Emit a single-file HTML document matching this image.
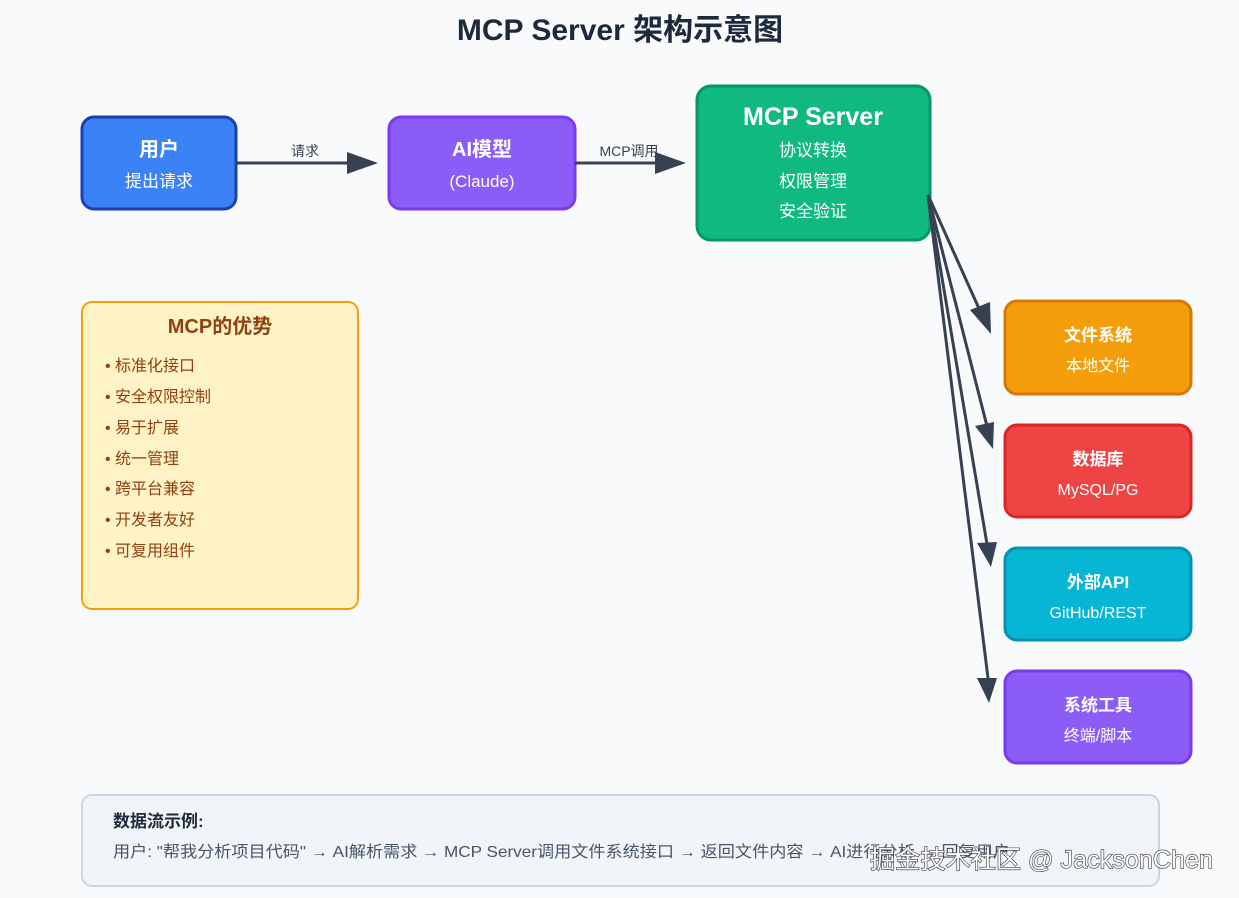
<!DOCTYPE html>
<html><head><meta charset="utf-8"><style>
html,body{margin:0;padding:0;background:#f8fafc;}
svg{display:block;font-family:"Liberation Sans","Noto Sans CJK SC",sans-serif;}
</style></head><body>
<svg width="1239" height="898" viewBox="0 0 1239 898" xmlns="http://www.w3.org/2000/svg">
<rect x="0" y="0" width="1239" height="898" fill="#f8fafc"/>
<text x="620" y="40" text-anchor="middle" font-size="30" font-weight="bold" fill="#1e293b">MCP Server 架构示意图</text>

<g stroke-width="3">
<rect x="82" y="117" width="154" height="92" rx="12" fill="#3b82f6" stroke="#1e40af"/>
<rect x="389" y="117" width="186" height="92" rx="12" fill="#8b5cf6" stroke="#7c3aed"/>
<rect x="697" y="86" width="233" height="154" rx="14" fill="#10b981" stroke="#059669"/>
<rect x="1005" y="301" width="186" height="93" rx="12" fill="#f59e0b" stroke="#d97706"/>
<rect x="1005" y="425" width="186" height="92" rx="12" fill="#ef4444" stroke="#dc2626"/>
<rect x="1005" y="548" width="186" height="92" rx="12" fill="#06b6d4" stroke="#0891b2"/>
<rect x="1005" y="671" width="186" height="92" rx="12" fill="#8b5cf6" stroke="#7c3aed"/>
</g>
<rect x="82" y="302" width="276" height="307" rx="10" fill="#fef3c7" stroke="#f59e0b" stroke-width="2"/>
<rect x="82" y="795" width="1077" height="91" rx="10" fill="#f1f5f9" stroke="#cbd5e1" stroke-width="2"/>

<g fill="#fff" text-anchor="middle">
<text x="159" y="156" font-size="20" font-weight="bold">用户</text>
<text x="159" y="187" font-size="17">提出请求</text>
<text x="482" y="156" font-size="20" font-weight="bold">AI模型</text>
<text x="482" y="187" font-size="17">(Claude)</text>
<text x="813" y="125" font-size="25" font-weight="bold">MCP Server</text>
<text x="813" y="156" font-size="17">协议转换</text>
<text x="813" y="187" font-size="17">权限管理</text>
<text x="813" y="217" font-size="17">安全验证</text>
<text x="1098" y="341" font-size="17" font-weight="bold">文件系统</text>
<text x="1098" y="371" font-size="16">本地文件</text>
<text x="1098" y="465" font-size="17" font-weight="bold">数据库</text>
<text x="1098" y="495" font-size="16">MySQL/PG</text>
<text x="1098" y="588" font-size="17" font-weight="bold">外部API</text>
<text x="1098" y="618" font-size="16">GitHub/REST</text>
<text x="1098" y="711" font-size="17" font-weight="bold">系统工具</text>
<text x="1098" y="741" font-size="16">终端/脚本</text>
</g>

<g stroke="#374151" stroke-width="3" fill="none">
<line x1="236" y1="163" x2="352" y2="163"/>
<line x1="575" y1="163" x2="660" y2="163"/>
<line x1="928" y1="195" x2="981" y2="313"/>
<line x1="928" y1="195" x2="988" y2="430"/>
<line x1="928" y1="195" x2="988" y2="550"/>
<line x1="928" y1="195" x2="988" y2="678"/>
</g>
<g fill="#374151">
<polygon points="378,163 347,152 347,174"/>
<polygon points="686,163 655,152 655,174"/>
<polygon points="991,334 970,310 990,302"/>
<polygon points="993,449 975,426 994,422"/>
<polygon points="991,567 977,543 997,542"/>
<polygon points="989,703 977,678 997,678"/>
</g>
<text x="305" y="156" text-anchor="middle" font-size="14" fill="#374151">请求</text>
<text x="629" y="156" text-anchor="middle" font-size="14" fill="#374151">MCP调用</text>

<text x="220" y="333" text-anchor="middle" font-size="20" font-weight="bold" fill="#92400e">MCP的优势</text>
<g font-size="16" fill="#92400e">
<text x="105" y="371">• 标准化接口</text>
<text x="105" y="402">• 安全权限控制</text>
<text x="105" y="433">• 易于扩展</text>
<text x="105" y="464">• 统一管理</text>
<text x="105" y="494">• 跨平台兼容</text>
<text x="105" y="525">• 开发者友好</text>
<text x="105" y="556">• 可复用组件</text>
</g>

<text x="113" y="827" font-size="17" font-weight="bold" fill="#1e293b">数据流示例:</text>
<text x="113" y="857" font-size="16" fill="#475569" textLength="897" lengthAdjust="spacingAndGlyphs">用户: "帮我分析项目代码" → AI解析需求 → MCP Server调用文件系统接口 → 返回文件内容 → AI进行分析 → 回复用户</text>
<text x="870" y="868" font-size="25" fill="#fff" stroke="#333" stroke-width="1.2" paint-order="stroke" textLength="343" lengthAdjust="spacingAndGlyphs">掘金技术社区 @ JacksonChen</text>
</svg>
</body></html>
